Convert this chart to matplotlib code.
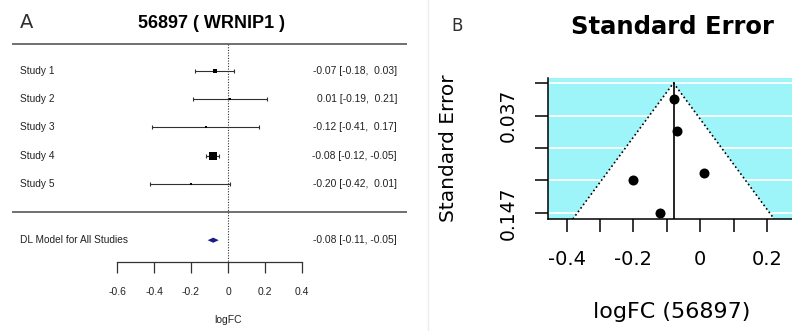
import matplotlib
matplotlib.use('Agg')
import matplotlib.pyplot as plt
from matplotlib.patches import Polygon
from matplotlib.lines import Line2D

# forest plot data (panel A)
gene_id = '56897'
gene_name = 'WRNIP1'
studies = ['Study 1', 'Study 2', 'Study 3', 'Study 4', 'Study 5']
est = [-0.07, 0.01, -0.12, -0.08, -0.20]
ci_lo = [-0.18, -0.19, -0.41, -0.12, -0.42]
ci_hi = [0.03, 0.21, 0.17, -0.05, 0.01]
model_label = 'DL Model for All Studies'
model_est = -0.08
model_lo = -0.11
model_hi = -0.05
forest_ticks = [-0.6, -0.4, -0.2, 0, 0.2, 0.4]

# funnel plot data (panel B)
se = [0.054, 0.102, 0.147, 0.018, 0.110]
funnel_xticks = [-0.4, -0.3, -0.2, -0.1, 0.0, 0.1, 0.2]
funnel_xlabels = ['-0.4', '', '-0.2', '', '0', '', '0.2']
funnel_yticks = [0.0, 0.037, 0.074, 0.110, 0.147]
funnel_ylabels = ['', '0.037', '', '', '0.147']

W, H = 792, 331
fig = plt.figure(figsize=(W / 100, H / 100), dpi=100)

def fx(px):
    return px / W

def fy(py):
    return 1 - py / H

# ---------------- panel A : forest plot ----------------
FA = 'Liberation Sans'
row0, row_h = 71, 28.2          # pixel y of first row, pixel per row
ax_a = fig.add_axes([0, 0, 420 / W, 1])
ax_a.set_xlim(-228 / 185, 192 / 185)
ax_a.set_ylim((H - row0) / row_h, -row0 / row_h)
ax_a.patch.set_alpha(0)

rows = list(range(len(studies)))
model_row = len(studies) + 1
axis_row = (262 - row0) / row_h
top_sep = (44 - row0) / row_h
bot_sep = len(studies)

# weights -> square size (metafor style scaling)
wts = [1 / s ** 2 for s in se]
wmin, wmax = min(wts), max(wts)
psize = [0.5 + (w - wmin) / (wmax - wmin) for w in wts]

ytr = ax_a.get_yaxis_transform()
for yy in (top_sep, bot_sep):
    ax_a.plot([12 / 420, 407 / 420], [yy, yy], color='#707070', lw=1.4,
              transform=ytr, solid_capstyle='butt')

ax_a.plot([0, 0], [top_sep, axis_row], color='#333333', lw=0.8,
          dashes=(1, 1.4))

xerr = [[e - l for e, l in zip(est, ci_lo)], [h - e for e, h in zip(est, ci_hi)]]
ax_a.errorbar(est, rows, xerr=xerr, fmt='none', ecolor='#303030',
              elinewidth=0.8, capsize=1.4, capthick=0.8)
for e, r, p in zip(est, rows, psize):
    ax_a.plot(e, r, 's', color='black', ms=3.7 * p, mew=0)

for name, r, e, l, h in zip(studies, rows, est, ci_lo, ci_hi):
    ax_a.text(20 / 420, r, name, transform=ytr, ha='left', va='center',
              fontsize=7.3, family=FA, color='#222222')
    ax_a.text(397 / 420, r, f'{e:.2f} [{l:.2f}, {h:5.2f}]', transform=ytr,
              ha='right', va='center', fontsize=7.4, family=FA, color='#222222')

dh = 0.09
ax_a.add_patch(Polygon([(model_lo, model_row), (model_est, model_row - dh),
                        (model_hi, model_row), (model_est, model_row + dh)],
                       closed=True, color='#1c1c88', lw=0))
ax_a.text(20 / 420, model_row, model_label, transform=ytr, ha='left',
          va='center', fontsize=7.3, family=FA, color='#222222')
ax_a.text(397 / 420, model_row,
          f'{model_est:.2f} [{model_lo:.2f}, {model_hi:5.2f}]', transform=ytr,
          ha='right', va='center', fontsize=7.4, family=FA, color='#222222')

for side in ('top', 'right', 'left'):
    ax_a.spines[side].set_visible(False)
ax_a.spines['bottom'].set_position(('data', axis_row))
ax_a.spines['bottom'].set_bounds(forest_ticks[0], forest_ticks[-1])
ax_a.spines['bottom'].set_color('#333333')
ax_a.spines['bottom'].set_linewidth(0.9)
ax_a.set_yticks([])
ax_a.set_xticks(forest_ticks)
ax_a.set_xticklabels([f'{t:g}' for t in forest_ticks], fontsize=7.5,
                     family=FA, color='#222222')
ax_a.tick_params(axis='x', direction='out', length=8, width=0.9,
                 color='#333333', pad=10)
ax_a.text(0, (320 - row0) / row_h, 'logFC', ha='center', va='center',
          fontsize=7.5, family=FA, color='#222222')

fig.text(fx(211), fy(24), f'{gene_id} ( {gene_name} )', ha='center',
         va='center', fontsize=13, fontweight='bold', family=FA)
fig.text(fx(27), fy(23), 'A', ha='center', va='center', fontsize=14,
         family='DejaVu Sans', fontweight='normal', color='#303030')

# ---------------- panel B : funnel plot ----------------
FB = 'DejaVu Sans'
fig.add_artist(Line2D([fx(428), fx(428)], [0, 1], color='#ececec', lw=1))

ax_b = fig.add_axes([fx(548), fy(219), (799 - 548) / W, (219 - 78) / H])
ax_b.set_xlim(-0.456, 0.296)
ylow = 136 / 884
ax_b.set_ylim(ylow, -5 / 884)
ax_b.set_facecolor('#9df5f9')

for t in funnel_yticks:
    ax_b.axhline(t, color='white', lw=1.3, zorder=1)

half = 1.96 * ylow
ax_b.add_patch(Polygon([(model_est - half, ylow), (model_est, 0),
                        (model_est + half, ylow)], closed=True,
                       color='white', lw=0, zorder=2))
ax_b.plot([model_est - half, model_est, model_est + half], [ylow, 0, ylow],
          color='black', lw=1.2, dashes=(1, 1.6), zorder=3)
ax_b.plot([model_est, model_est], [0, ylow], color='black', lw=1.2, zorder=3)
ax_b.scatter(est, se, s=52, color='black', zorder=4, linewidths=0)

for side in ('top', 'right'):
    ax_b.spines[side].set_visible(False)
for side in ('left', 'bottom'):
    ax_b.spines[side].set_linewidth(1.1)

ax_b.set_xticks(funnel_xticks)
ax_b.set_xticklabels(funnel_xlabels, fontsize=14, family=FB)
ax_b.set_yticks(funnel_yticks)
ax_b.set_yticklabels(funnel_ylabels, fontsize=13.5, family=FB, rotation=90,
                     va='center')
ax_b.tick_params(axis='x', direction='out', length=9.5, width=1.1, pad=13)
ax_b.tick_params(axis='y', direction='out', length=9.5, width=1.1, pad=12)

fig.text(fx(672), fy(312), f'logFC ({gene_id})', ha='center', va='center',
         fontsize=16, family=FB)
fig.text(fx(448), fy(148), 'Standard Error', ha='center', va='center',
         rotation=90, fontsize=14.5, family=FB)
fig.text(fx(672), fy(27), 'Standard Error', ha='center', va='center',
         fontsize=17.5, fontweight='bold', family=FB)
fig.text(fx(457), fy(26), 'B', ha='center', va='center', fontsize=12,
         family='DejaVu Sans', fontweight='normal', color='#303030')

fig.savefig('out.png', dpi=100)
